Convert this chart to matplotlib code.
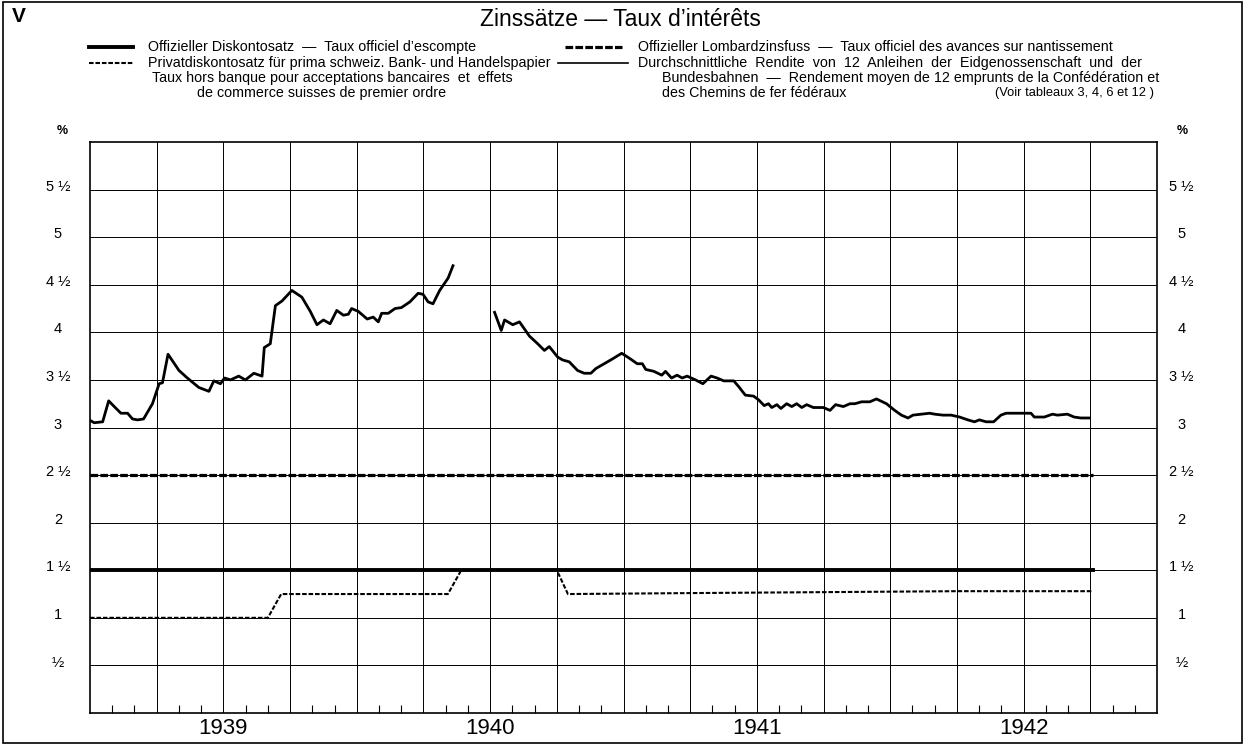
import matplotlib; matplotlib.use("Agg")
import matplotlib.pyplot as plt
import numpy as np
from matplotlib.patches import Rectangle
from matplotlib.lines import Line2D

plt.rcParams['font.family'] = ['Liberation Sans', 'DejaVu Sans']

# months since Jan 1939
yield1_m = [0.04,0.19,0.57,0.84,1.09,1.39,1.69,1.91,2.14,2.41,2.81,3.11,3.26,3.51,4.00,4.38,4.90,5.35,5.57,5.87,
            6.05,6.32,6.69,6.99,7.37,7.74,7.84,8.11,8.34,8.64,9.08,9.53,9.91,10.21,10.50,10.80,11.10,11.40,11.62,11.77,
            12.07,12.47,12.74,12.97,13.12,13.42,13.72,14.01,14.39,14.76,14.98,15.21,15.43,15.73,16.11,16.33]
yield1_v = [3.07,3.05,3.06,3.28,3.22,3.15,3.15,3.09,3.08,3.09,3.25,3.46,3.47,3.77,3.60,3.52,3.42,3.38,3.49,3.46,
            3.52,3.50,3.54,3.50,3.57,3.54,3.84,3.88,4.28,4.33,4.44,4.37,4.22,4.08,4.13,4.09,4.23,4.18,4.19,4.25,
            4.22,4.14,4.16,4.11,4.20,4.20,4.25,4.26,4.32,4.41,4.40,4.32,4.30,4.44,4.57,4.70]
yield2_m = [18.20,18.50,18.65,19.02,19.32,19.77,20.14,20.44,20.66,21.04,21.26,21.56,21.93,22.23,22.53,22.76,23.13,23.50,23.92,24.25,
            24.62,24.85,25.00,25.37,25.72,25.89,26.16,26.41,26.64,26.86,27.24,27.57,27.94,28.21,28.51,28.96,29.18,29.48,29.85,30.08,
            30.33,30.52,30.67,30.90,31.08,31.34,31.57,31.79,32.02,32.24,32.54,32.99,33.29,33.54,33.89,34.19,34.41,34.71,35.08,35.38,
            35.83,36.20,36.50,36.80,37.02,37.40,37.77,38.00,38.37,38.74,39.12,39.49,39.79,40.01,40.31,40.65,40.98,41.21,41.43,41.88,
            42.33,42.48,42.93,43.30,43.52,43.97,44.27,44.57,44.94]
yield2_v = [4.21,4.02,4.13,4.08,4.11,3.96,3.88,3.81,3.85,3.74,3.71,3.69,3.60,3.57,3.57,3.62,3.67,3.72,3.78,3.73,
            3.67,3.67,3.61,3.59,3.55,3.59,3.52,3.55,3.52,3.54,3.50,3.46,3.54,3.52,3.49,3.49,3.43,3.34,3.33,3.29,
            3.23,3.25,3.21,3.24,3.20,3.25,3.22,3.25,3.21,3.24,3.21,3.21,3.18,3.24,3.22,3.25,3.25,3.27,3.27,3.30,
            3.25,3.18,3.13,3.10,3.13,3.14,3.15,3.14,3.13,3.13,3.11,3.08,3.06,3.08,3.06,3.06,3.13,3.15,3.15,3.15,
            3.15,3.11,3.11,3.14,3.13,3.14,3.11,3.10,3.10]
official_m = [0, 45.1]; official_v = [1.5, 1.5]
lombard_m = [0, 45.1]; lombard_v = [2.5, 2.5]
private_m = [0, 8.0, 8.6, 16.1, 16.7, 21.0, 21.5, 27, 33, 39, 45.1]
private_v = [1.0, 1.0, 1.25, 1.25, 1.5, 1.5, 1.25, 1.26, 1.27, 1.28, 1.28]
years = ['1939', '1940', '1941', '1942']
ylevels = [0.5, 1, 1.5, 2, 2.5, 3, 3.5, 4, 4.5, 5, 5.5]
ylabels = ['½', '1', '1 ½', '2', '2 ½', '3', '3 ½', '4', '4 ½', '5', '5 ½']

W, H = 1246, 745
fig = plt.figure(figsize=(W/100, H/100), dpi=100); fig.patch.set_facecolor('white')
fig.add_artist(Rectangle((3/W, 2/H), 1239/W, 741/H, fill=False, ec='black', lw=1.2, transform=fig.transFigure))
ax = fig.add_axes([90/W, 1-713/H, 1067/W, 571/H])
ax.set_xlim(0, 48); ax.set_ylim(0, 6)
ax.set_xticks(np.arange(3, 48, 3)); ax.set_xticks([m for m in range(1, 48) if m % 3], minor=True)
ax.set_yticks(ylevels)
ax.tick_params(which='major', length=0, labelbottom=False, labelleft=False)
ax.tick_params(which='minor', direction='in', length=6, width=0.8, bottom=True, left=False)
ax.grid(which='major', color='black', lw=0.7)
for s in ax.spines.values(): s.set_linewidth(1.2)

ax.plot(yield1_m, yield1_v, color='black', lw=2.0, solid_joinstyle='round', zorder=5)
ax.plot(yield2_m, yield2_v, color='black', lw=2.0, solid_joinstyle='round', zorder=5)
ax.plot(official_m, official_v, color='black', lw=2.8, zorder=4)
ax.plot(lombard_m, lombard_v, color='black', lw=2.3, dashes=(2.4, 0.7), zorder=4)
ax.plot(private_m, private_v, color='black', lw=1.5, dashes=(2.2, 0.9), zorder=4)

# axis labels (a hair above each gridline)
for v, s in zip(ylevels, ylabels):
    ax.text(-0.03, v + 0.03, s, transform=ax.get_yaxis_transform(), ha='center', va='center', fontsize=10.5)
    ax.text(1.023, v + 0.03, s, transform=ax.get_yaxis_transform(), ha='center', va='center', fontsize=10.5)
ax.text(-0.026, 6.05, '%', transform=ax.get_yaxis_transform(), ha='center', va='bottom', fontsize=9, weight='bold')
ax.text(1.024, 6.05, '%', transform=ax.get_yaxis_transform(), ha='center', va='bottom', fontsize=9, weight='bold')
for i, y in enumerate(years):
    ax.text(6 + 12*i, -0.16, y, ha='center', va='center', fontsize=16, clip_on=False)

def txt(x, y, s, **kw): fig.text(x/W, 1-y/H, s, va='center', **kw)
def sample(x0, x1, y, **kw): fig.add_artist(Line2D([x0/W, x1/W], [1-y/H, 1-y/H], color='black', transform=fig.transFigure, **kw))

txt(12, 16, 'V', fontsize=15, weight='bold')
txt(620, 19, 'Zinssätze — Taux d\u2019intérêts', fontsize=16.5, ha='center')

fs = 10.3
r1, r2, r3, r4 = 47, 63, 78, 93
sample(89, 133, r1, lw=2.8)
txt(148, r1, 'Offizieller Diskontosatz  —  Taux officiel d\u2019escompte', fontsize=fs)
sample(89, 133, r2, lw=1.5, dashes=(2.2, 0.9))
txt(148, r2, 'Privatdiskontosatz für prima schweiz. Bank- und Handelspapier', fontsize=fs)
txt(152, r3, 'Taux hors banque pour acceptations bancaires  et  effets', fontsize=fs)
txt(197, r4, 'de commerce suisses de premier ordre', fontsize=fs)
sample(565, 622, r1, lw=2.3, dashes=(2.4, 0.7))
txt(638, r1, 'Offizieller Lombardzinsfuss  —  Taux officiel des avances sur nantissement', fontsize=fs)
sample(558, 628, r2, lw=1.2)
txt(638, r2, 'Durchschnittliche  Rendite  von  12  Anleihen  der  Eidgenossenschaft  und  der', fontsize=fs)
txt(662, r3, 'Bundesbahnen  —  Rendement moyen de 12 emprunts de la Confédération et', fontsize=fs)
txt(662, r4, 'des Chemins de fer fédéraux', fontsize=fs)
txt(995, r4, '(Voir tableaux 3, 4, 6 et 12 )', fontsize=9.3)

fig.savefig('out.png', dpi=100, facecolor='white')
